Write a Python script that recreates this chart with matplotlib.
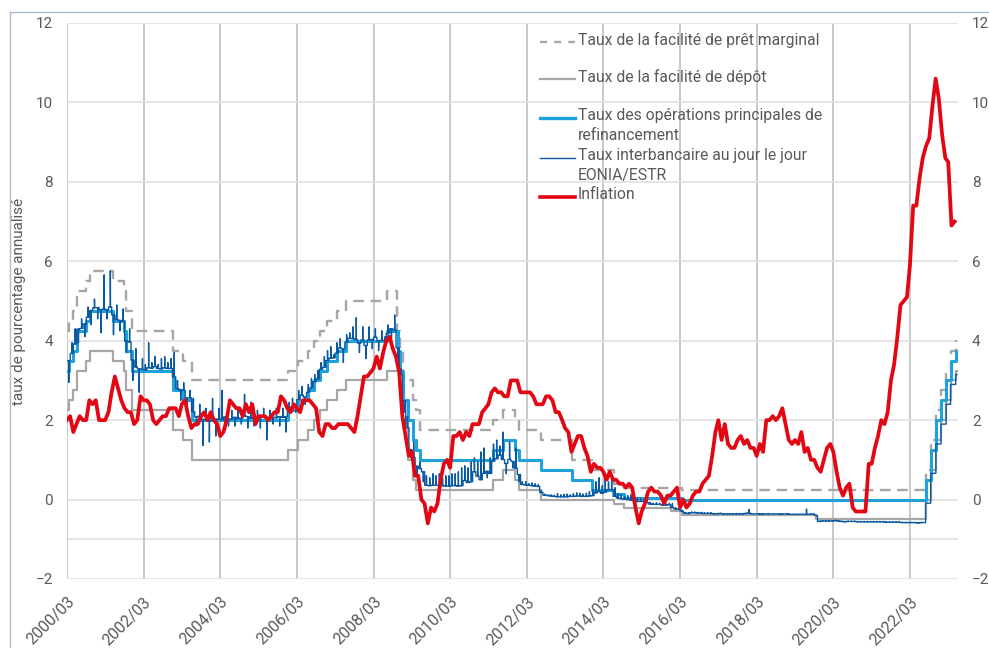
import matplotlib
matplotlib.use("Agg")
import matplotlib.pyplot as plt
import matplotlib.dates as mdates
from matplotlib.lines import Line2D
import numpy as np
import pandas as pd

plt.rcParams['font.family'] = ['Roboto', 'DejaVu Sans']

# ---------------- DATA ----------------
# ECB policy rates: change dates and rates in force from that date
policy_dates = ["2000-03-01", "2000-03-17", "2000-04-28", "2000-06-09", "2000-09-01", "2000-10-06",
                "2001-05-11", "2001-08-31", "2001-09-18", "2001-11-09", "2002-12-06", "2003-03-07",
                "2003-06-06", "2005-12-06", "2006-03-08", "2006-06-15", "2006-08-09", "2006-10-11",
                "2006-12-13", "2007-03-14", "2007-06-13", "2008-07-09", "2008-10-09", "2008-10-15",
                "2008-11-12", "2008-12-10", "2009-01-21", "2009-03-11", "2009-04-08", "2009-05-13",
                "2011-04-13", "2011-07-13", "2011-11-09", "2011-12-14", "2012-07-11", "2013-05-08",
                "2013-11-13", "2014-06-11", "2014-09-10", "2015-12-09", "2016-03-16", "2019-09-18",
                "2022-07-27", "2022-09-14", "2022-11-02", "2022-12-21", "2023-02-08", "2023-03-22",
                "2023-05-10", "2023-05-22"]
marginal_rate = [4.25, 4.50, 4.75, 5.25, 5.50, 5.75, 5.50, 5.25, 4.75, 4.25, 3.75, 3.50,
                 3.00, 3.25, 3.50, 3.75, 4.00, 4.25, 4.50, 4.75, 5.00, 5.25, 4.25, 4.25,
                 3.75, 3.00, 3.00, 2.50, 2.25, 1.75, 2.00, 2.25, 2.00, 1.75, 1.50, 1.00,
                 0.75, 0.40, 0.30, 0.30, 0.25, 0.25, 0.75, 1.50, 2.25, 2.75, 3.25, 3.75,
                 4.00, 4.00]
mro_rate = [3.25, 3.50, 3.75, 4.25, 4.50, 4.75, 4.50, 4.25, 3.75, 3.25, 2.75, 2.50,
            2.00, 2.25, 2.50, 2.75, 3.00, 3.25, 3.50, 3.75, 4.00, 4.25, 4.25, 3.75,
            3.25, 2.50, 2.00, 1.50, 1.25, 1.00, 1.25, 1.50, 1.25, 1.00, 0.75, 0.50,
            0.25, 0.15, 0.05, 0.05, 0.00, 0.00, 0.50, 1.25, 2.00, 2.50, 3.00, 3.50,
            3.75, 3.75]
deposit_rate = [2.25, 2.50, 2.75, 3.25, 3.50, 3.75, 3.50, 3.25, 2.75, 2.25, 1.75, 1.50,
                1.00, 1.25, 1.50, 1.75, 2.00, 2.25, 2.50, 2.75, 3.00, 3.25, 3.25, 3.25,
                2.75, 2.00, 1.00, 0.50, 0.25, 0.25, 0.50, 0.75, 0.50, 0.25, 0.00, 0.00,
                0.00, -0.10, -0.20, -0.30, -0.40, -0.50, 0.00, 0.75, 1.50, 2.00, 2.50, 3.00,
                3.25, 3.25]

# EONIA: monthly level (2000/03 - 2022/06) and one daily extreme per month
eonia_level = [3.50, 3.68, 3.92, 4.29, 4.31, 4.42, 4.59, 4.76, 4.83, 4.83,
               4.78, 4.80, 4.78, 4.85, 4.65, 4.54, 4.51, 4.49, 3.99, 3.97, 3.51, 3.34,
               3.29, 3.28, 3.26, 3.32, 3.31, 3.35, 3.30, 3.29, 3.32, 3.30, 3.30, 3.09,
               2.79, 2.76, 2.75, 2.56, 2.56, 2.21, 2.08, 2.10, 2.02, 2.01, 1.97, 2.06,
               2.02, 2.03, 2.01, 2.08, 2.02, 2.03, 2.07, 2.04, 2.05, 2.11, 2.09, 2.05,
               2.07, 2.06, 2.06, 2.08, 2.07, 2.06, 2.07, 2.06, 2.09, 2.07, 2.09, 2.28,
               2.33, 2.35, 2.52, 2.63, 2.58, 2.70, 2.81, 2.97, 3.04, 3.28, 3.33, 3.50,
               3.56, 3.57, 3.69, 3.82, 3.79, 3.96, 4.06, 4.05, 4.03, 3.94, 4.02, 3.88,
               4.02, 4.03, 4.09, 3.99, 4.01, 4.01, 4.19, 4.30, 4.27, 3.82, 3.15, 2.49,
               1.81, 1.26, 1.06, 0.84, 0.78, 0.70, 0.36, 0.35, 0.36, 0.36, 0.36, 0.35,
               0.34, 0.34, 0.35, 0.35, 0.34, 0.35, 0.48, 0.43, 0.45, 0.70, 0.59, 0.50,
               0.66, 0.71, 0.66, 0.97, 1.03, 1.12, 1.01, 0.91, 1.01, 0.96, 0.79, 0.63,
               0.38, 0.37, 0.36, 0.35, 0.34, 0.33, 0.18, 0.11, 0.10, 0.09, 0.08, 0.07,
               0.07, 0.07, 0.07, 0.08, 0.08, 0.09, 0.09, 0.08, 0.08, 0.09, 0.10, 0.17,
               0.20, 0.16, 0.19, 0.25, 0.25, 0.08, 0.04, 0.02, 0.01, 0.00, -0.01, -0.03,
               -0.05, -0.04, -0.05, -0.07, -0.11, -0.12, -0.12, -0.12, -0.14, -0.14, -0.13, -0.20,
               -0.24, -0.24, -0.29, -0.34, -0.35, -0.33, -0.33, -0.34, -0.34, -0.35, -0.35, -0.35,
               -0.36, -0.36, -0.35, -0.36, -0.36, -0.36, -0.36, -0.36, -0.36, -0.36, -0.35, -0.34,
               -0.36, -0.36, -0.36, -0.37, -0.36, -0.36, -0.36, -0.36, -0.36, -0.37, -0.36, -0.36,
               -0.37, -0.37, -0.37, -0.37, -0.37, -0.37, -0.37, -0.36, -0.40, -0.55, -0.54, -0.54,
               -0.54, -0.54, -0.53, -0.54, -0.55, -0.56, -0.55, -0.55, -0.55, -0.56, -0.56, -0.56,
               -0.56, -0.56, -0.56, -0.56, -0.56, -0.56, -0.57, -0.57, -0.57, -0.57, -0.57, -0.58,
               -0.58, -0.58, -0.58, -0.58, -0.59, -0.58]
eonia_extreme = [2.95, 3.95, 4.30, 3.95, 4.55, 4.10, 4.85, 4.40, 5.05, 4.55,
                 4.20, 5.66, 4.55, 5.76, 4.15, 4.90, 4.25, 4.80, 3.70, 4.30, 3.00, 3.80,
                 2.70, 3.55, 3.40, 3.95, 3.45, 3.60, 3.40, 3.55, 3.60, 3.45, 3.55, 3.70,
                 3.00, 2.50, 2.95, 2.40, 2.75, 2.55, 1.85, 2.40, 1.36, 2.30, 1.45, 2.55,
                 1.60, 2.30, 2.75, 1.75, 1.85, 2.25, 1.85, 2.25, 1.90, 2.65, 1.80, 2.45,
                 1.85, 2.25, 1.80, 2.30, 1.50, 2.25, 1.90, 2.30, 1.85, 2.30, 1.70, 2.45,
                 2.55, 2.20, 2.75, 2.85, 2.40, 2.90, 3.05, 3.15, 3.25, 3.45, 3.60, 3.75,
                 3.85, 3.65, 3.95, 4.05, 3.45, 4.15, 4.20, 4.35, 4.58, 3.70, 4.35, 3.55,
                 4.35, 3.80, 4.30, 3.75, 4.25, 4.10, 4.40, 3.95, 4.65, 3.30, 3.30, 2.20,
                 2.10, 1.05, 1.45, 0.60, 0.95, 0.45, 0.60, 0.55, 0.65, 0.60, 0.65, 0.55,
                 0.60, 0.60, 0.65, 0.65, 0.70, 0.80, 0.85, 0.80, 0.95, 1.05, 0.95, 1.20,
                 1.30, 0.55, 1.05, 1.40, 1.50, 1.35, 1.70, 0.65, 1.45, 0.80, 1.30, 0.45,
                 0.45, 0.45, 0.40, 0.42, 0.40, 0.38, 0.22, 0.14, 0.12, 0.12, 0.11, 0.15,
                 0.12, 0.13, 0.14, 0.12, 0.15, 0.17, 0.16, 0.14, 0.16, 0.20, 0.25, 0.45,
                 0.55, 0.35, 0.60, 0.45, 0.50, 0.30, 0.15, 0.12, 0.08, 0.10, 0.12, 0.15,
                 0.05, 0.03, 0.00, -0.02, -0.07, -0.09, -0.08, -0.09, -0.11, -0.11, -0.09, -0.10,
                 -0.20, -0.22, -0.26, -0.32, -0.33, -0.31, -0.31, -0.32, -0.32, -0.33, -0.33, -0.33,
                 -0.35, -0.35, -0.34, -0.35, -0.35, -0.35, -0.35, -0.35, -0.35, -0.35, -0.34, -0.25,
                 -0.36, -0.36, -0.35, -0.36, -0.36, -0.35, -0.36, -0.36, -0.36, -0.36, -0.36, -0.35,
                 -0.37, -0.37, -0.37, -0.37, -0.37, -0.24, -0.37, -0.36, -0.40, -0.54, -0.53, -0.52,
                 -0.53, -0.53, -0.52, -0.53, -0.54, -0.55, -0.54, -0.54, -0.54, -0.55, -0.55, -0.55,
                 -0.55, -0.55, -0.55, -0.55, -0.55, -0.55, -0.56, -0.56, -0.56, -0.56, -0.56, -0.57,
                 -0.57, -0.57, -0.57, -0.57, -0.58, -0.57]
# €STR change points from July 2022
estr_dates = ["2022-07-01", "2022-07-27", "2022-09-14", "2022-11-02", "2022-12-21",
              "2023-02-08", "2023-03-22", "2023-05-10", "2023-05-22"]
estr_values = [-0.58, -0.09, 0.66, 1.40, 1.90, 2.40, 2.90, 3.15, 3.15]

# HICP inflation, monthly 2000/02 - 2023/04
inflation = [2.0, 2.1, 1.7, 1.9, 2.1, 2.0, 2.0, 2.5, 2.4, 2.5, 2.0,
             2.0, 2.0, 2.2, 2.7, 3.1, 2.8, 2.5, 2.3, 2.2, 2.2, 1.9, 2.0,
             2.6, 2.5, 2.5, 2.4, 2.0, 1.9, 2.0, 2.1, 2.1, 2.3, 2.3, 2.3,
             2.1, 2.4, 2.5, 2.1, 1.8, 1.9, 1.9, 2.1, 2.2, 2.0, 2.2, 2.0,
             1.9, 1.6, 1.7, 2.0, 2.5, 2.4, 2.3, 2.3, 2.1, 2.4, 2.2, 2.4,
             1.9, 2.1, 2.1, 2.1, 2.0, 2.1, 2.2, 2.2, 2.6, 2.5, 2.3, 2.2,
             2.4, 2.3, 2.2, 2.5, 2.5, 2.5, 2.4, 2.3, 1.7, 1.6, 1.9, 1.9,
             1.8, 1.8, 1.9, 1.9, 1.9, 1.9, 1.8, 1.7, 2.1, 2.6, 3.1, 3.1,
             3.2, 3.3, 3.6, 3.3, 3.7, 4.0, 4.1, 3.8, 3.6, 3.2, 2.1, 1.6,
             1.1, 1.2, 0.6, 0.6, 0.0, -0.1, -0.6, -0.2, -0.3, -0.1, 0.5, 0.9,
             1.0, 0.8, 1.6, 1.6, 1.7, 1.5, 1.7, 1.6, 1.9, 1.9, 1.9, 2.2,
             2.3, 2.4, 2.7, 2.8, 2.7, 2.7, 2.6, 2.6, 3.0, 3.0, 3.0, 2.7,
             2.7, 2.7, 2.7, 2.6, 2.4, 2.4, 2.4, 2.6, 2.6, 2.5, 2.2, 2.2,
             2.0, 1.8, 1.7, 1.2, 1.4, 1.6, 1.6, 1.3, 1.1, 0.7, 0.9, 0.8,
             0.8, 0.7, 0.5, 0.7, 0.5, 0.5, 0.4, 0.4, 0.3, 0.4, 0.3, -0.2,
             -0.6, -0.3, -0.1, 0.2, 0.3, 0.2, 0.2, 0.1, -0.1, 0.1, 0.1, 0.2,
             0.3, -0.2, 0.0, -0.2, -0.1, 0.1, 0.2, 0.2, 0.4, 0.5, 0.6, 1.1,
             1.7, 2.0, 1.5, 1.9, 1.4, 1.3, 1.3, 1.5, 1.6, 1.4, 1.5, 1.3,
             1.3, 1.1, 1.4, 1.2, 2.0, 2.0, 2.1, 2.0, 2.1, 2.3, 1.9, 1.5,
             1.4, 1.5, 1.4, 1.7, 1.2, 1.3, 1.0, 1.0, 0.8, 0.7, 1.0, 1.3,
             1.4, 1.2, 0.7, 0.3, 0.1, 0.3, 0.4, -0.2, -0.3, -0.3, -0.3, -0.3,
             0.9, 0.9, 1.3, 1.6, 2.0, 1.9, 2.2, 3.0, 3.4, 4.1, 4.9, 5.0,
             5.1, 5.9, 7.4, 7.4, 8.1, 8.6, 8.9, 9.1, 9.9, 10.6, 10.1, 9.2,
             8.6, 8.5, 6.9, 7.0]

labels = ["Taux de la facilité de prêt marginal",
          "Taux de la facilité de dépôt",
          "Taux des opérations principales de\nrefinancement",
          "Taux interbancaire au jour le jour\nEONIA/ESTR",
          "Inflation"]
tick_years = list(range(2000, 2023, 2))
y_label = "taux de pourcentage annualisé"

# ---------------- STYLE ----------------
C_GREY = "#a6a6a6"
C_MRO = "#1fa2dc"
C_EONIA = "#0a5aa3"
C_RED = "#e30613"
C_TEXT = "#595959"

fig = plt.figure(figsize=(9.89, 6.48), dpi=100)
ax = fig.add_axes([67 / 989, 1 - 579 / 648, (958 - 67) / 989, (579 - 23) / 648])

pdates = pd.to_datetime(policy_dates)
ax.plot(pdates, deposit_rate, drawstyle="steps-post", color=C_GREY, lw=1.6, zorder=3)
ax.plot(pdates, marginal_rate, drawstyle="steps-post", color=C_GREY, lw=1.7,
        linestyle=(0, (4.5, 2.8)), zorder=3)
ax.plot(pdates, mro_rate, drawstyle="steps-post", color=C_MRO, lw=2.2, zorder=4)

# EONIA series: monthly level with one daily extreme each month
months = pd.date_range("2000-03-01", periods=len(eonia_level), freq="MS")
ex, ey = [], []
for d, lvl, ext in zip(months, eonia_level, eonia_extreme):
    ex += [d, d + pd.Timedelta(days=17), d + pd.Timedelta(days=18)]
    ey += [lvl, ext, lvl]
ex += list(pd.to_datetime(estr_dates))
ey += estr_values
ax.plot(ex, ey, drawstyle="steps-post", color=C_EONIA, lw=1.0, zorder=5)

try:
    idates = pd.date_range("2000-02-29", periods=len(inflation), freq="ME")
except Exception:
    idates = pd.date_range("2000-02-29", periods=len(inflation), freq="M")
ax.plot(idates, inflation, color=C_RED, lw=2.7, zorder=6, solid_joinstyle="round")

# axes
ax.set_xlim(pd.Timestamp("2000-03-01"), pd.Timestamp("2023-06-01"))
ax.set_ylim(-2, 12)
ax.set_yticks(range(-2, 13, 2))
ax.set_xticks([pd.Timestamp(f"{y}-03-01") for y in tick_years])
ax.xaxis.set_major_formatter(mdates.DateFormatter("%Y/%m"))
for s in ax.spines.values():
    s.set_visible(False)
ax.grid(axis="x", color="#c4c4c4", lw=1.3, zorder=0)
ax.grid(axis="y", color="#e0e0e0", lw=1.2, zorder=0)
ax.axhline(-1, color="#e0e0e0", lw=1.2, zorder=0)
ax.set_axisbelow(True)
ax.tick_params(axis="y", length=0, labelsize=11, labelcolor=C_TEXT, pad=10,
               labelleft=True, labelright=True)
ax.tick_params(axis="x", length=0, labelsize=11.5, labelcolor=C_TEXT, pad=11)
for lab in ax.get_xticklabels():
    lab.set_rotation(45)
    lab.set_ha("right")
    lab.set_va("top")
    lab.set_rotation_mode("anchor")
ax.set_ylabel(y_label, fontsize=11, color=C_TEXT)
ax.yaxis.set_label_coords(-0.046, 0.5)

# legend (drawn manually to match layout)
styles = [dict(color=C_GREY, lw=1.7, linestyle=(0, (3.0, 3.0))),
          dict(color=C_GREY, lw=1.6),
          dict(color=C_MRO, lw=2.4),
          dict(color=C_EONIA, lw=1.0),
          dict(color=C_RED, lw=2.6)]
ys_px = [42, 79, 118, 158, 197]
x0 = (540 - 67) / 891
x1 = (575 - 67) / 891
xt = (578 - 67) / 891
for st, lab, ypx in zip(styles, labels, ys_px):
    yf = (579 - ypx) / 556
    ax.add_line(Line2D([x0, x1], [yf, yf], transform=ax.transAxes, clip_on=False, **st))
    ax.text(xt, yf + 10 / 556, lab, transform=ax.transAxes, fontsize=11.3, color=C_TEXT,
            va="top", ha="left", linespacing=1.4)

# outer frame lines
fig.add_artist(Line2D([10 / 989, 10 / 989], [0, 1 - 12 / 648], transform=fig.transFigure,
                      color="#a9bccf", lw=1.0))
fig.add_artist(Line2D([10 / 989, 1], [1 - 12 / 648, 1 - 12 / 648], transform=fig.transFigure,
                      color="#a9bccf", lw=1.0))

fig.savefig("out.png", dpi=100)
